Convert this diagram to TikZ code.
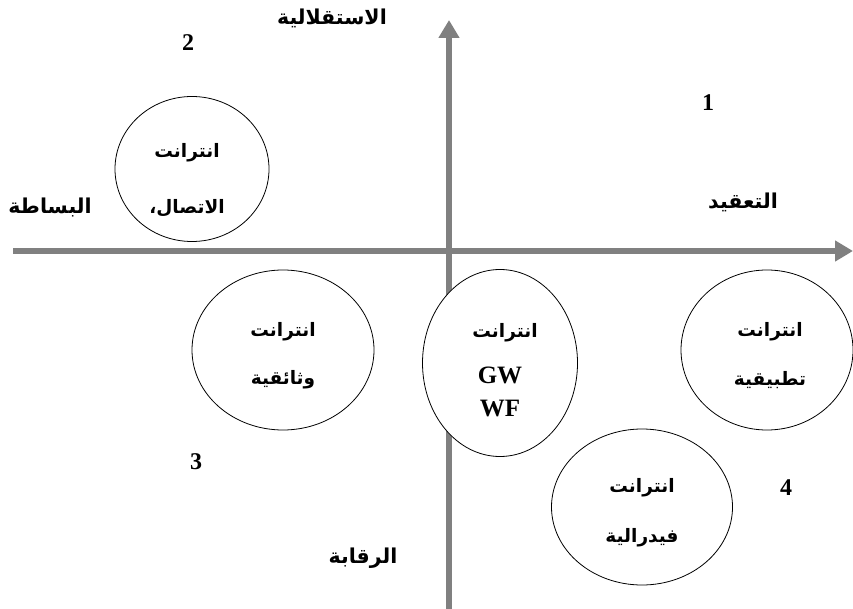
\documentclass[tikz,border=0pt]{standalone}
\usepackage{fontspec}
\setmainfont{Liberation Serif}
\newfontfamily\arabicfont[Script=Arabic]{DejaVu Sans}
\TeXXeTstate=1
\usetikzlibrary{shapes.geometric,arrows.meta}
\definecolor{axisgray}{RGB}{128,128,128}
\begin{document}
\begin{tikzpicture}[x=1pt,y=-1pt,
  axis/.style={draw=axisgray,line width=6pt,-{Triangle[length=18pt,width=20pt]}},
  bubble/.style={draw=black,line width=0.8pt,ellipse,fill=white,inner sep=0pt},
  ar/.style={font=\arabicfont\bfseries\fontsize{18.5}{20}\selectfont,inner sep=0pt},
  lab/.style={font=\arabicfont\bfseries\fontsize{20.5}{22}\selectfont,inner sep=0pt},
  num/.style={font=\bfseries\fontsize{24}{28}\selectfont,inner sep=0pt},
  lat/.style={font=\bfseries\fontsize{25}{28}\selectfont,inner sep=0pt}]
\useasboundingbox (0,0) rectangle (853,609);
\coordinate (xs) at (13,251);
\coordinate (xe) at (853,251);
\coordinate (ys) at (449,612);
\coordinate (ye) at (449,20);
\draw[axis] (xs) -- (xe);
\draw[axis] (ys) -- (ye);
% bubbles
\node[bubble,minimum width=154pt,minimum height=145pt] (c2) at (192,169) {};
\node[bubble,minimum width=182pt,minimum height=160pt] (c3) at (283,350) {};
\node[bubble,minimum width=155pt,minimum height=187pt] (cg) at (500,363) {};
\node[bubble,minimum width=172pt,minimum height=160pt] (ct) at (767,350) {};
\node[bubble,minimum width=181pt,minimum height=156pt] (cf) at (642,507) {};
% bubble texts
\node[ar] (c2a) at (187,153) {\beginR انترانت\endR};
\node[ar] (c2b) at (187,208) {\beginR الاتصال،\endR};
\node[ar] (c3a) at (283,332) {\beginR انترانت\endR};
\node[ar] (c3b) at (283,380) {\beginR وثائقية\endR};
\node[ar] (cga) at (505,333) {\beginR انترانت\endR};
\node[lat] (cgb) at (500,375) {GW};
\node[lat] (cgc) at (500,409) {WF};
\node[ar] (cta) at (770,332) {\beginR انترانت\endR};
\node[ar] (ctb) at (770,380) {\beginR تطبيقية\endR};
\node[ar] (cfa) at (642,488) {\beginR انترانت\endR};
\node[ar] (cfb) at (642,538) {\beginR فيدرالية\endR};
% axis labels
\node[lab] (lu) at (332,18) {\beginR الاستقلالية\endR};
\node[lab] (lr) at (743,202) {\beginR التعقيد\endR};
\node[lab] (ll) at (50,207) {\beginR البساطة\endR};
\node[lab] (ld) at (363,558) {\beginR الرقابة\endR};
% quadrant numbers
\node[num] (n1) at (708,103) {1};
\node[num] (n2) at (188,43) {2};
\node[num] (n3) at (196,462) {3};
\node[num] (n4) at (786,488) {4};
\end{tikzpicture}
\end{document}
